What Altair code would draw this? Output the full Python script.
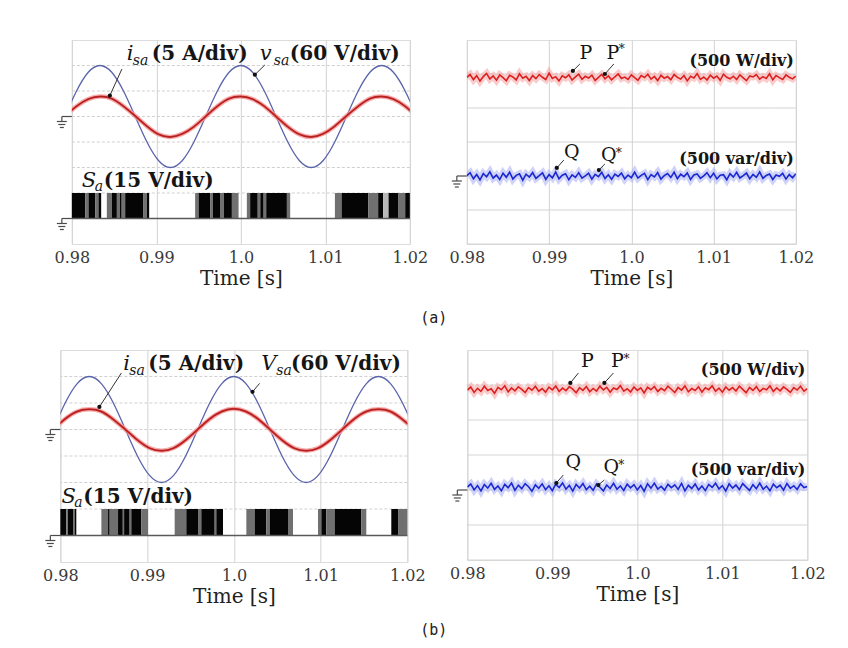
import altair as alt
import pandas as pd

SERIF = "DejaVu Serif"
MONO = "DejaVu Sans Mono"
X_TICKS = [0.98, 0.99, 1.0, 1.01, 1.02]
LABEL_EXPR = "abs(datum.value - 1) < 1e-9 ? '1.0' : format(datum.value, '.2f')"

# ---------------- waveform samples (every 1/720 s) ----------------
T_SINE = [0.979167, 0.980556, 0.981944, 0.983333, 0.984722, 0.986111, 0.9875, 0.988889,
          0.990278, 0.991667, 0.993056, 0.994444, 0.995833, 0.997222, 0.998611, 1.0,
          1.001389, 1.002778, 1.004167, 1.005556, 1.006944, 1.008333, 1.009722, 1.011111,
          1.0125, 1.013889, 1.015278, 1.016667, 1.018056, 1.019444, 1.020833]
VSA_A_V = [0, 60, 104, 120, 104, 60, 0, -60, -104, -120, -104, -60, 0, 60, 104, 120,
           104, 60, 0, -60, -104, -120, -104, -60, 0, 60, 104, 120, 104, 60, 0]
ISA_A_A = [0.1, 2.0, 3.4, 3.9, 3.5, 2.0, 0.1, -1.9, -3.5, -4.0, -3.4, -2.0, 0.0, 2.0, 3.5, 3.9,
           3.4, 2.0, 0.0, -2.0, -3.5, -4.0, -3.4, -1.9, 0.1, 2.0, 3.5, 3.9, 3.4, 2.0, 0.0]
VSA_B_V = [0, 60, 104, 120, 104, 60, 0, -60, -104, -120, -104, -60, 0, 60, 104, 120,
           104, 60, 0, -60, -104, -120, -104, -60, 0, 60, 104, 120, 104, 60, 0]
ISA_B_A = [0.0, 2.0, 3.4, 3.8, 3.4, 1.9, 0.0, -2.0, -3.5, -4.0, -3.5, -2.0, 0.0, 2.0, 3.4, 3.9,
           3.4, 2.0, 0.0, -2.0, -3.5, -4.0, -3.5, -2.0, 0.0, 2.0, 3.4, 3.8, 3.4, 1.9, 0.0]

V_PER_DIV = 60
A_PER_DIV = 5
SA_V_PER_DIV = 15
SA_HIGH_V = 15
SA_ZERO_DIV = -4
W_PER_DIV = 500

# ---------------- switching signal Sa (on-intervals) ----------------
SA_A_T0 = [0.98000, 0.98158, 0.98197, 0.98276, 0.98315, 0.98414, 0.98473, 0.98533, 0.98570, 0.98590, 0.98631, 0.98848, 0.98888,
           0.99459, 0.99500, 0.99640, 0.99670, 0.99760, 0.99800, 0.99894,
           1.00071, 1.00110, 1.00200, 1.00230, 1.00270, 1.00300, 1.00545,
           1.01113, 1.01192, 1.01507, 1.01625, 1.01684, 1.01748, 1.01866, 1.01945]
SA_A_T1 = [0.98158, 0.98197, 0.98276, 0.98315, 0.98347, 0.98473, 0.98533, 0.98570, 0.98590, 0.98631, 0.98848, 0.98888, 0.98915,
           0.99500, 0.99640, 0.99670, 0.99760, 0.99800, 0.99894, 0.99973,
           1.00110, 1.00200, 1.00230, 1.00270, 1.00300, 1.00545, 1.00584,
           1.01192, 1.01507, 1.01625, 1.01684, 1.01748, 1.01866, 1.01945, 1.02000]
SA_A_SHADE = ["k", "g", "k", "g", "k", "g", "k", "g", "k", "g", "k", "g", "k",
              "g", "k", "g", "k", "g", "k", "g",
              "g", "k", "g", "k", "g", "k", "g",
              "g", "k", "g", "k", "l", "k", "g", "k"]

SA_B_T0 = [0.98000, 0.98069, 0.98088, 0.98146, 0.98165,
           0.98473, 0.98550, 0.98569, 0.98665, 0.98720, 0.98735, 0.98799, 0.98818, 0.98934,
           0.99318, 0.99452, 0.99587, 0.99625, 0.99779, 0.99798,
           1.00144, 1.00240, 1.00375, 1.00413, 1.00624,
           1.00970, 1.01009, 1.01066, 1.01162, 1.01470,
           1.01815, 1.01893]
SA_B_T1 = [0.98069, 0.98088, 0.98146, 0.98165, 0.98184,
           0.98550, 0.98569, 0.98665, 0.98720, 0.98735, 0.98799, 0.98818, 0.98934, 0.99011,
           0.99452, 0.99587, 0.99625, 0.99779, 0.99798, 0.99875,
           1.00240, 1.00375, 1.00413, 1.00624, 1.00682,
           1.01009, 1.01066, 1.01162, 1.01470, 1.01527,
           1.01893, 1.02000]
SA_B_SHADE = ["k", "g", "k", "g", "k",
              "g", "k", "g", "k", "g", "k", "g", "k", "g",
              "g", "k", "g", "k", "g", "k",
              "g", "k", "g", "k", "g",
              "g", "k", "g", "k", "g",
              "k", "g"]

# ---------------- instantaneous powers (W / var) ----------------
P_A_W = [1450, 1492, 1418, 1476, 1396, 1462, 1508, 1428, 1471, 1409, 1486, 1447, 1401, 1482, 1456, 1413, 1503, 1439, 1467, 1404,
         1477, 1431, 1491, 1452, 1419, 1512, 1436, 1461, 1398, 1473, 1444, 1488, 1411, 1457, 1497, 1423, 1466, 1441, 1483, 1406,
         1451, 1493, 1429, 1472, 1414, 1459, 1501, 1434, 1454, 1421, 1487, 1446, 1408, 1476, 1449, 1496, 1424, 1464, 1403, 1481,
         1438, 1462, 1417, 1492, 1450, 1427, 1477, 1399, 1466, 1443, 1506, 1422, 1456, 1412, 1482, 1439, 1471, 1407, 1497, 1452,
         1429, 1467, 1418, 1487, 1444, 1402, 1472, 1457, 1491, 1424, 1461, 1433, 1502, 1414, 1476, 1446, 1419, 1486, 1453, 1428, 1469]
Q_A_VAR = [5, 48, -42, 22, -57, 36, -12, 61, -31, 14, -52, 41, -19, 56, -46, 9, 31, -62, 26, -16,
           51, -36, 4, 46, -51, 21, -27, 59, -41, 11, 34, -56, 16, -21, 49, -32, 1, 41, -47, 24,
           -11, 54, -37, 19, -49, 29, -6, 44, -42, 14, -26, 58, -31, 9, 39, -54, 21, -14, 51, -46,
           6, 36, -21, 56, -39, 26, -9, 46, -52, 16, 31, -34, 1, 49, -24, 41, -44, 11, 19, -56,
           34, -16, 54, -29, 6, 44, -41, 24, -19, 61, -36, 9, 29, -51, 14, -4, 39, -46, 21, -26, 34]
P_B_W = [1428, 1471, 1394, 1452, 1409, 1483, 1421, 1446, 1381, 1467, 1433, 1488, 1402, 1458, 1416, 1474, 1437, 1392, 1463, 1426,
         1481, 1411, 1449, 1398, 1469, 1431, 1486, 1407, 1455, 1419, 1476, 1441, 1389, 1461, 1424, 1479, 1404, 1451, 1414, 1484,
         1429, 1466, 1396, 1457, 1436, 1491, 1412, 1446, 1401, 1472, 1423, 1459, 1386, 1468, 1432, 1478, 1408, 1453, 1418, 1482,
         1439, 1393, 1464, 1427, 1487, 1403, 1449, 1421, 1474, 1399, 1461, 1434, 1489, 1411, 1456, 1397, 1471, 1425, 1462, 1415,
         1484, 1438, 1391, 1466, 1422, 1477, 1406, 1452, 1431, 1488, 1409, 1458, 1417, 1473, 1436, 1395, 1463, 1428, 1481, 1413, 1447]
Q_B_VAR = [42, 86, 1, 63, -14, 78, 27, 96, 9, 57, -11, 81, 33, 99, -6, 69, 19, 91, 46, -19,
           74, 24, 88, 4, 61, -9, 83, 36, 101, 12, 66, -16, 79, 29, 93, 6, 54, -4, 86, 39,
           -13, 71, 21, 96, 11, 59, -7, 84, 31, 76, 1, 64, -17, 89, 26, 98, 14, 51, -2, 81,
           34, 73, 9, 94, -12, 67, 22, 86, 3, 58, -9, 79, 37, 97, 16, 62, -14, 88, 28, 71,
           6, 91, 41, -6, 76, 19, 99, 11, 56, -11, 84, 32, 68, -3, 93, 24, 61, 8, 87, 36, 49]

# ---------------- annotations ----------------
# left panels: y in divisions
LA_TEXT = ["i", "sa", "(5 A/div)", "v", "sa", "(60 V/div)", "S", "a", "(15 V/div)"]
LA_T = [0.98651, 0.98722, 0.98947, 1.00225, 1.00390, 1.00580, 0.98118, 0.98272, 0.98379]
LA_Y = [2.22, 2.02, 2.22, 2.22, 2.02, 2.22, -2.76, -2.92, -2.76]
LA_STYLE = ["it", "sub", "bold", "it", "sub", "bold", "it", "sub", "bold"]
LA_ARROW = [(0.98592, 1.86, 0.98450, 0.82), (1.00284, 2.02, 1.00166, 1.64)]

LB_TEXT = ["i", "sa", "(5 A/div)", "V", "sa", "(60 V/div)", "S", "a", "(15 V/div)"]
LB_T = [0.98726, 0.98795, 0.99014, 1.00317, 1.00490, 1.00660, 0.98012, 0.98161, 0.98265]
LB_Y = [2.25, 2.06, 2.25, 2.25, 2.06, 2.25, -2.77, -2.92, -2.77]
LB_STYLE = ["it", "sub", "bold", "it", "sub", "bold", "it", "sub", "bold"]
LB_ARROW = [(0.98703, 2.13, 0.98450, 0.85), (1.00297, 1.74, 1.00215, 1.42)]

# right panels: y in W / var
RA_TEXT = ["P", "P", "*", "(500 W/div)", "Q", "Q", "*", "(500 var/div)"]
RA_T = [0.99447, 0.99775, 0.99884, 1.01976, 0.99277, 0.99726, 0.99848, 1.01976]
RA_Y = [1715, 1715, 1870, 1618, 265, 220, 338, 176]
RA_STYLE = ["reg", "reg", "star", "boldr", "reg", "reg", "star", "boldr"]
RA_ARROW = [(0.99374, 1647, 0.99289, 1545), (0.99787, 1647, 0.99678, 1500),
            (0.99179, 235, 0.99094, 118), (0.99678, 176, 0.99605, 88)]

RB_TEXT = ["P", "P", "*", "(500 W/div)", "Q", "Q", "*", "(500 var/div)"]
RB_T = [0.99412, 0.99765, 0.99871, 1.01976, 0.99247, 0.99694, 0.99812, 1.01976]
RB_Y = [1761, 1761, 1871, 1643, 314, 243, 357, 214]
RB_STYLE = ["reg", "reg", "star", "boldr", "reg", "reg", "star", "boldr"]
RB_ARROW = [(0.99306, 1671, 0.99212, 1529), (0.99718, 1671, 0.99612, 1529),
            (0.99129, 214, 0.99047, 100), (0.99612, 143, 0.99541, 71)]

# ---------------- helpers ----------------
XS = alt.Scale(domain=[0.98, 1.02], nice=False, zero=False)
XAX = alt.Axis(values=X_TICKS, labelExpr=LABEL_EXPR, title="Time [s]", grid=True,
               gridColor="#d2d2d2", gridWidth=1, ticks=False, domain=False,
               labelFont=SERIF, labelFontSize=16, labelColor="#3a3a3a", labelPadding=5,
               labelFlush=False, labelOverlap=False, titleFont=SERIF, titleFontSize=20,
               titleFontWeight="normal", titleColor="#222222", titlePadding=3)


def X(f):
    return alt.X(f, type="quantitative", scale=XS, axis=XAX)


STYLES = {
    "it": dict(fontSize=21, fontStyle="italic", fontWeight="normal", align="left", baseline="alphabetic"),
    "sub": dict(fontSize=14, fontStyle="italic", fontWeight="normal", align="left", baseline="alphabetic"),
    "bold": dict(fontSize=20, fontStyle="normal", fontWeight="bold", align="left", baseline="alphabetic"),
    "reg": dict(fontSize=19, fontStyle="normal", fontWeight="normal", align="center", baseline="alphabetic"),
    "star": dict(fontSize=12, fontStyle="normal", fontWeight="normal", align="center", baseline="middle"),
    "boldr": dict(fontSize=16, fontStyle="normal", fontWeight="bold", align="right", baseline="alphabetic"),
}


def panel(ydom, grid_vals, grid_dash, curves, sa, texts, arrows, grounds, w, h):
    YS = alt.Scale(domain=ydom, nice=False, zero=False)

    def Y(f):
        return alt.Y(f, type="quantitative", scale=YS, axis=None)

    layers = []
    gdf = pd.DataFrame({"y": grid_vals})
    layers.append(alt.Chart(gdf).mark_rule(color="#d0d0d0", strokeWidth=1, strokeDash=grid_dash)
                  .encode(y=Y("y")))
    if sa is not None:
        t0, t1, shade = sa
        lo = SA_ZERO_DIV
        hi = SA_ZERO_DIV + SA_HIGH_V / SA_V_PER_DIV
        sdf = pd.DataFrame({"t0": t0, "t1": t1, "shade": shade, "lo": lo, "hi": hi})
        layers.append(alt.Chart(sdf).mark_rect().encode(
            x=X("t0"), x2=alt.X2("t1"), y=Y("hi"), y2=alt.Y2("lo"),
            color=alt.Color("shade:N", scale=alt.Scale(domain=["k", "g", "l"],
                                                        range=["#050505", "#707070", "#b8b8b8"]),
                            legend=None)))
        bdf = pd.DataFrame({"y": [SA_ZERO_DIV]})
        layers.append(alt.Chart(bdf).mark_rule(color="#5a5a5a", strokeWidth=1.3).encode(y=Y("y")))
    for df, color, sw, op, interp in curves:
        layers.append(alt.Chart(df).mark_line(color=color, strokeWidth=sw, opacity=op,
                                              interpolate=interp, clip=True)
                      .encode(x=X("t"), y=Y("y")))
    # arrows
    adf = pd.DataFrame(arrows, columns=["t0", "y0", "t1", "y1"])
    layers.append(alt.Chart(adf).mark_rule(color="#333333", strokeWidth=1)
                  .encode(x=X("t0"), x2=alt.X2("t1"), y=Y("y0"), y2=alt.Y2("y1")))
    layers.append(alt.Chart(adf).mark_point(filled=True, size=18, color="#111111", opacity=1)
                  .encode(x=X("t1"), y=Y("y1")))
    # texts
    tt, ty, ts, tst = texts
    tdf = pd.DataFrame({"t": tt, "y": ty, "text": ts, "style": tst})
    for st, props in STYLES.items():
        sub = tdf[tdf["style"] == st]
        if len(sub) == 0:
            continue
        layers.append(alt.Chart(sub).mark_text(font=SERIF, color="#151515", **props)
                      .encode(x=X("t"), y=Y("y"), text="text:N"))
    # ground symbols
    for gy in grounds:
        gd = alt.Y(datum=gy, type="quantitative", scale=YS, axis=None)
        gd2 = alt.Y2(datum=gy)
        gc = "#4a4a4a"
        layers.append(alt.Chart(pd.DataFrame({"a": [0]})).mark_rule(color=gc, strokeWidth=1.2)
                      .encode(x=alt.value(-10), x2=alt.value(0), y=gd))
        layers.append(alt.Chart(pd.DataFrame({"a": [0]})).mark_rule(color=gc, strokeWidth=1.2, y2Offset=5)
                      .encode(x=alt.value(-10), y=gd, y2=gd2))
        for off, x0, x1 in [(5, -15, -5), (8, -13.5, -6.5), (11, -12, -8)]:
            layers.append(alt.Chart(pd.DataFrame({"a": [0]})).mark_rule(color=gc, strokeWidth=1.2, yOffset=off)
                          .encode(x=alt.value(x0), x2=alt.value(x1), y=gd))
    return alt.layer(*layers).properties(width=w, height=h)


def sine_curves(vsa_v, isa_a):
    vdf = pd.DataFrame({"t": T_SINE, "y": [v / V_PER_DIV for v in vsa_v]})
    idf = pd.DataFrame({"t": T_SINE, "y": [i / A_PER_DIV for i in isa_a]})
    return [
        (vdf, "#5a64aa", 1.3, 1.0, "natural"),
        (idf, "#f29a9a", 4.5, 0.8, "natural"),
        (idf, "#d42a2a", 2.0, 1.0, "natural"),
        (idf, "#7a1a1a", 0.7, 0.7, "natural"),
    ]


def power_curves(p, q):
    n = len(p)
    tn = [0.98 + 0.04 * k / (n - 1) for k in range(n)]
    pdf_ = pd.DataFrame({"t": tn, "y": p})
    qdf = pd.DataFrame({"t": tn, "y": q})
    return [
        (pdf_, "#f6a0a0", 7, 0.55, "linear"),
        (pdf_, "#dc2020", 1.6, 1.0, "linear"),
        (qdf, "#a8aef4", 7, 0.55, "linear"),
        (qdf, "#1a28d2", 1.6, 1.0, "linear"),
    ]


LEFT_GRID = [-4, -3, -2, -1, 0, 1, 2]
RIGHT_GRID = [-2 * W_PER_DIV, -W_PER_DIV, 0, W_PER_DIV, 2 * W_PER_DIV, 3 * W_PER_DIV]

left_a = panel([-5, 3], LEFT_GRID, [3, 2], sine_curves(VSA_A_V, ISA_A_A),
               (SA_A_T0, SA_A_T1, SA_A_SHADE), (LA_T, LA_Y, LA_TEXT, LA_STYLE), LA_ARROW,
               [0, SA_ZERO_DIV], 338, 204)
right_a = panel([-2 * W_PER_DIV, 4 * W_PER_DIV], RIGHT_GRID, [1, 0], power_curves(P_A_W, Q_A_VAR),
                None, (RA_T, RA_Y, RA_TEXT, RA_STYLE), RA_ARROW, [0], 329, 204)
left_b = panel([-5, 3], LEFT_GRID, [3, 2], sine_curves(VSA_B_V, ISA_B_A),
               (SA_B_T0, SA_B_T1, SA_B_SHADE), (LB_T, LB_Y, LB_TEXT, LB_STYLE), LB_ARROW,
               [0, SA_ZERO_DIV], 347, 212)
right_b = panel([-2 * W_PER_DIV, 4 * W_PER_DIV], RIGHT_GRID, [1, 0], power_curves(P_B_W, Q_B_VAR),
                None, (RB_T, RB_Y, RB_TEXT, RB_STYLE), RB_ARROW, [0], 340, 210)


def caption(txt, off):
    return alt.TitleParams(text=txt, orient="bottom", anchor="middle", font=MONO, fontSize=15,
                           fontWeight="normal", color="#222222", offset=off)


row_a = alt.hconcat(left_a, right_a, spacing=57, bounds="flush", title=caption("(a)", 22))
row_b = alt.hconcat(left_b, right_b, spacing=60, bounds="flush", title=caption("(b)", 16))

chart = (alt.vconcat(row_a, row_b, spacing=23, center=True)
         .properties(padding={"left": 34, "top": 31, "right": 2, "bottom": 0})
         .configure_view(stroke="#8c8c8c", strokeWidth=1.5)
         .configure(background="white"))

chart.save("out.html", embed_options={"renderer": "svg", "actions": False})
